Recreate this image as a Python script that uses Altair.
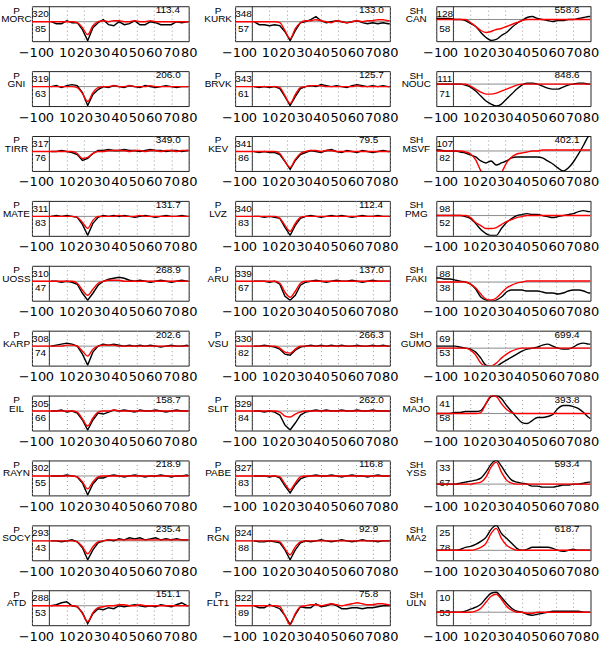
import altair as alt
import pandas as pd

N = None
# sample times (s)
T = [-10, -8, -5, -2, 1, 4, 7, 10, 13, 16, 19, 22, 25, 28, 31, 34,
     37, 40, 43, 46, 49, 52, 55, 58, 61, 64, 67, 70, 73, 76, 79, 80]

# ---------- column 1 (P) ----------
MORC_obs = [N, N, N, N, 0, -2, -2, 1, -1, -1, -8, -19, -6, -1, 2, -3, -4, 0, -3, -2, 1, -3, -3, 0, -1, -3, -3, -3, 0, -1, 0, 0]
MORC_syn = [0, 0, 0, 0, 0, 0, 0, 0, 0, -1, -6, -13, -4, 0, 1, 0, 1, 1, 0, 0, 1, 0, 0, 1, 0, 0, 0, 0, 0, 0, 0, 0]
GNI_obs = [N, N, N, N, 0, 1, -1, 1, 2, 1, -6, -19, -8, -3, 0, -1, 1, 0, -1, 1, 0, -1, 1, 0, -1, 0, 1, 0, -1, 0, 0, 0]
GNI_syn = [0, 0, 0, 0, 0, 0, 0, 0, 0, -1, -7, -15, -6, -1, 0, 0, 1, 0, 0, 1, 0, 0, 0, 1, 0, 0, 0, 0, 0, 0, 0, 0]
TIRR_obs = [N, N, N, N, 0, 0, 1, 0, -1, -3, -9, -7, -2, 1, 1, 2, 1, 1, 2, 1, 1, 0, 1, 2, 1, 1, 0, 1, 1, 0, 1, 1]
TIRR_syn = [0, 0, 0, 0, 0, 0, 0, 0, 0, -2, -7, -6, -2, 0, 0, 1, 1, 1, 1, 0, 1, 1, 0, 1, 1, 0, 1, 1, 0, 1, 1, 1]
MATE_obs = [N, N, N, N, 0, 1, 0, 1, 0, -1, -8, -19, -7, -1, 1, 0, 1, 0, 1, 0, -1, 0, 1, 0, -1, 0, 1, 0, 0, 1, 0, 0]
MATE_syn = [0, 0, 0, 0, 0, 0, 0, 0, 0, -1, -6, -12, -4, 0, 0, 0, 0, 1, 0, 0, 0, 1, 0, 0, 0, 0, 0, 0, 0, 0, 0, 0]
UOSS_obs = [N, N, N, N, 0, 0, -1, 0, -1, -3, -12, -19, -12, -4, 0, 2, 3, 4, 3, 1, 0, 1, 0, -1, 0, 1, 0, -1, 0, 1, 0, 0]
UOSS_syn = [0, 0, 0, 0, 0, 0, 0, 0, 0, -2, -9, -14, -8, -2, 0, 1, 1, 1, 0, 0, 0, 0, 0, 0, 0, 0, 0, 0, 0, 0, 0, 0]
KARP_obs = [N, N, N, N, 0, 1, 2, 3, 2, 0, -8, -19, -6, 0, 2, 1, 2, 1, 0, 1, 0, 1, 0, 1, 0, -1, 0, 1, 0, 0, 1, 0]
KARP_syn = [0, 0, 0, 0, 0, 0, 0, 1, 1, 0, -5, -10, -3, 0, 1, 1, 1, 0, 0, 0, 0, 0, 0, 0, 0, 0, 0, 0, 0, 0, 0, 0]
EIL_obs = [N, N, N, N, 0, 0, 1, -1, 0, -2, -9, -19, -9, -2, -3, -1, 1, 0, 1, 0, -1, 1, 0, 0, 1, 0, -1, 0, 1, 0, 0, 0]
EIL_syn = [0, 0, 0, 0, 0, 0, 0, 0, 0, -1, -8, -15, -7, -1, 0, 0, 1, 0, 0, 0, 0, 0, 0, 0, 0, 0, 0, 0, 0, 0, 0, 0]
RAYN_obs = [N, N, N, N, 0, 0, 0, 1, 0, -1, -7, -19, -8, -2, -2, 0, 1, 0, -1, 0, 1, 0, -1, 0, 0, 1, 0, -1, 0, 0, 1, 0]
RAYN_syn = [0, 0, 0, 0, 0, 0, 0, 0, 0, -1, -6, -13, -6, -1, 0, 0, 0, 0, 0, 0, 0, 0, 0, 0, 0, 0, 0, 0, 0, 0, 0, 0]
SOCY_obs = [N, N, N, N, 0, 0, -1, 0, 1, -1, -7, -19, -9, -2, 0, 1, 0, 2, 1, 3, 2, 3, 1, 2, 3, 1, 2, 1, 2, 1, 1, 1]
SOCY_syn = [0, 0, 0, 0, 0, 0, 0, 0, 0, -1, -6, -13, -6, -1, 0, 1, 1, 1, 1, 1, 1, 1, 1, 1, 1, 1, 1, 1, 1, 1, 1, 1]
ATD_obs = [N, N, N, N, 0, 1, 3, 4, 0, -1, -7, -18, -8, -3, -4, -2, -3, 0, -1, 0, 1, 0, -1, 0, -1, 1, 0, -1, 1, 3, 0, 0]
ATD_syn = [0, 0, 0, 0, 0, 0, 0, 0, 0, -1, -8, -16, -7, -2, -1, 0, 0, 1, 1, 0, 0, 1, 0, 0, 0, 0, 0, 0, 0, 0, 0, 0]

# ---------- column 2 (P) ----------
KURK_obs = [N, N, N, N, 0, -3, -3, -4, -3, -4, -10, -19, -9, -1, 0, 2, 5, 1, -1, 0, 1, 0, -1, 0, 1, -1, -2, -1, -2, -1, -2, -2]
KURK_syn = [0, 0, 0, 0, 0, 0, 0, 0, 0, -1, -9, -17, -7, -1, 1, 1, 2, 1, 0, -1, 1, 0, -1, 0, 1, 0, 1, 1, 2, 2, 1, 1]
BRVK_obs = [N, N, N, N, 0, -1, 0, -1, 0, -2, -10, -19, -10, -2, 0, 1, 0, 2, 1, 0, 1, 0, -1, 1, 2, 1, 0, 1, 0, 1, 0, 0]
BRVK_syn = [0, 0, 0, 0, 0, 0, 0, 0, 0, -1, -9, -17, -8, -1, 0, 1, 1, 1, 0, 0, 0, 0, 0, 0, 1, 0, 0, 0, 0, 0, 0, 0]
KEV_obs = [N, N, N, N, 0, -1, 0, -1, -1, -3, -10, -18, -9, -3, -1, 1, 0, -1, 1, 2, 0, -1, 1, 0, -1, 1, 0, -1, 0, 1, 0, 0]
KEV_syn = [0, 0, 0, 0, 0, 0, 0, 0, 0, -2, -10, -16, -8, -2, 0, 1, 1, 0, 1, 1, 0, 0, 0, 0, 0, 0, 0, 0, 0, 0, 0, 0]
LVZ_obs = [N, N, N, N, 0, 0, -1, 0, -1, -2, -11, -19, -9, -2, 0, 1, 0, -1, 0, 1, 0, 1, 0, -1, 0, 1, 0, 0, 1, 0, 0, 0]
LVZ_syn = [0, 0, 0, 0, 0, 0, 0, 0, 0, -2, -9, -15, -7, -1, 0, 0, 0, 0, 0, 0, 0, 0, 0, 0, 0, 0, 0, 0, 0, 0, 0, 0]
ARU_obs = [N, N, N, N, 0, 0, 0, -1, 0, -3, -15, -19, -14, -4, -1, 0, 1, 0, -1, 0, 1, 0, 0, 1, 0, -1, 0, 1, 0, 0, 0, 0]
ARU_syn = [0, 0, 0, 0, 0, 0, 0, 0, 0, -2, -11, -16, -10, -2, 0, 0, 0, 0, 0, 0, 0, 0, 0, 0, 0, 0, 0, 0, 0, 0, 0, 0]
VSU_obs = [N, N, N, N, 0, 0, 1, 0, -1, -3, -8, -9, -4, -1, 0, 1, 0, 1, 0, 1, 0, 1, 0, 0, 1, 0, 0, 1, 0, 1, 0, 0]
VSU_syn = [0, 0, 0, 0, 0, 0, 0, 0, 0, -2, -6, -7, -3, 0, 0, 0, 0, 0, 0, 0, 0, 0, 0, 0, 0, 0, 0, 0, 0, 0, 0, 0]
SLIT_obs = [N, N, N, N, 0, 0, -1, 0, -1, -4, -14, -19, -12, -4, -1, 0, 1, 0, 1, 0, 0, 1, 0, 0, 1, 0, 0, 1, 0, 0, 0, 0]
SLIT_syn = [0, 0, 0, 0, 0, 0, 0, 0, 0, -1, -5, -6, -3, -1, 0, 0, 0, 0, 0, 0, 0, 0, 0, 0, 0, 0, 0, 0, 0, 0, 0, 0]
PABE_obs = [N, N, N, N, 0, 0, 0, -1, 0, -2, -10, -17, -9, -3, -1, 0, 1, 0, 0, 1, 0, -1, 0, 1, 0, 0, -1, 0, 1, 0, 0, 0]
PABE_syn = [0, 0, 0, 0, 0, 0, 0, 0, 0, -1, -8, -14, -7, -1, 0, 0, 0, 0, 0, 0, 0, 0, 0, 0, 0, 0, 0, 0, 0, 0, 0, 0]
RGN_obs = [N, N, N, N, 0, -1, -1, 0, -1, -2, -9, -19, -9, -2, 0, -1, 0, 1, 0, -1, 0, 1, 0, -1, 0, 1, 0, 0, -1, 0, 0, 0]
RGN_syn = [0, 0, 0, 0, 0, 0, 0, 0, 0, -1, -8, -14, -6, -1, 0, 0, 0, 0, 0, 0, 0, 0, 0, 0, 0, 0, 0, 0, 0, 0, 0, 0]
FLT1_obs = [N, N, N, N, 0, -2, -2, 1, -1, -3, -10, -19, -9, -1, -2, -2, 2, -1, 0, 2, 0, -3, -3, -2, -2, -3, -2, -2, -1, 0, 0, 0]
FLT1_syn = [0, 0, 0, 0, 0, 0, 0, 0, 0, -1, -10, -19, -8, -1, 0, 1, 1, 0, 1, 2, 1, 0, 1, 2, 3, 2, 1, 1, 2, 2, 1, 1]

# ---------- column 3 (SH) ----------
CAN_obs = [1, 1, 1, 1, 0, 0, -1, -4, -7, -13, -18, -21, -20, -16, -13, -8, -4, -1, 2, 3, 1, 0, -1, -2, -1, -1, 0, 0, 1, 2, 3, 3]
CAN_syn = [0, 0, 0, 0, 0, 0, 0, -3, -7, -11, -13, -12, -10, -9, -7, -5, -3, -1, 0, 0, 0, 0, 0, 0, 0, 0, 0, 0, 0, 0, 0, 0]
NOUC_obs = [0, 0, 0, 0, 0, 0, -1, -3, -7, -12, -17, -20, -22, -20, -15, -10, -5, -1, 1, 1, 0, -2, -4, -5, -5, -3, -1, 0, 1, 1, 0, 0]
NOUC_syn = [0, 0, 0, 0, 0, 0, 0, -2, -5, -8, -10, -10, -9, -7, -5, -3, -1, 0, 0, 0, 0, 0, 0, 0, 0, 0, 0, 0, 0, 0, 0, 0]
MSVF_obs = [1, 1, 0, 0, 0, -1, -2, -4, -6, -10, -12, -10, -14, -12, -10, -7, -6, -6, -6, -6, -6, -7, -10, -13, -17, -20, -17, -11, -3, 6, 15, 16]
MSVF_syn = [0, 0, 0, 0, 0, 0, -1, -3, -9, -20, -28, -31, -29, -22, -12, -6, -3, -2, -1, 0, 0, 1, 1, 1, 1, 1, 1, 1, 1, 1, 1, 1]
PMG_obs = [0, 0, 0, 0, 0, 0, -1, -3, -8, -14, -18, -20, -20, -13, -7, -3, 0, 1, 2, 1, 1, 0, -1, -2, -1, 0, 1, 2, 4, 5, 4, 4]
PMG_syn = [0, 0, 0, 0, 0, 0, 0, -2, -7, -10, -13, -13, -12, -9, -6, -4, -2, -1, 0, 0, 0, 0, 0, 0, 0, 0, 0, 0, 0, 0, 0, 0]
FAKI_obs = [4, 4, 3, 3, 2, 1, 0, -2, -7, -15, -18, -19, -18, -15, -10, -8, -8, -8, -9, -9, -9, -10, -11, -11, -12, -11, -9, -8, -8, -9, -11, -11]
FAKI_syn = [0, 0, 0, 0, 0, 0, 0, -2, -6, -12, -17, -18, -16, -11, -6, -3, -1, 0, 1, 1, 1, 1, 1, 1, 1, 1, 1, 1, 1, 1, 1, 1]
GUMO_obs = [2, 2, 2, 2, 2, 1, 0, -1, -4, -10, -17, -18, -18, -15, -12, -9, -6, -3, -1, 0, 1, 3, 4, 2, 0, -1, -1, 1, 4, 5, 4, 4]
GUMO_syn = [0, 0, 0, 0, 0, 0, 0, -2, -7, -15, -18, -18, -15, -10, -6, -3, -1, 0, 0, 0, 0, 0, 0, 0, 0, 0, 0, 0, 0, 0, 0, 0]
MAJO_obs = [0, 0, 0, 0, 1, 1, 2, 2, 2, 3, 10, 17, 18, 15, 8, 2, -4, -9, -10, -7, -4, -4, -3, -1, 5, 8, 8, 7, 5, 1, -4, -5]
MAJO_syn = [0, 0, 0, 0, 0, 0, 0, 0, 0, 1, 10, 18, 17, 10, 4, 1, 0, 0, 0, 0, 0, 0, 0, 0, 0, 0, 0, 0, 0, 0, 0, 0]
YSS_obs = [0, 0, 0, 0, 0, 1, 2, 3, 4, 6, 12, 20, 24, 18, 10, 4, 2, 1, 0, -2, -2, -3, -3, -3, -2, -1, -1, 0, 0, 1, 2, 2]
YSS_syn = [0, 0, 0, 0, 0, 0, 0, 0, 1, 2, 7, 17, 22, 12, 4, 1, 0, 0, 0, 0, 0, 0, 0, 0, 0, 0, 0, 0, 0, 0, 0, 0]
MA2_obs = [0, 0, 0, 0, 0, 1, 3, 4, 6, 9, 13, 21, 25, 17, 12, 7, 2, 0, 1, 3, 3, 3, 3, 2, 0, -1, 0, 1, 0, 0, 0, 0]
MA2_syn = [0, 0, 0, 0, 0, 0, 0, 0, 1, 3, 7, 17, 22, 12, 5, 2, 0, 0, 0, 0, 0, 0, 0, 0, 0, 0, 0, 0, 0, 0, 0, 0]
ULN_obs = [0, 0, 0, 0, 0, 0, 1, 3, 5, 8, 14, 19, 20, 15, 9, 4, 1, 0, -2, -3, -2, -1, 0, 1, 1, 1, 1, 1, 1, 0, 0, 0]
ULN_syn = [0, 0, 0, 0, 0, 0, 0, 0, 1, 4, 10, 16, 18, 13, 6, 2, 0, 0, -1, -1, 0, 0, 0, 0, 0, 0, 0, 0, 0, 0, 0, 0]

# ---------- panel annotations (column by column) ----------
stations = ["MORC", "GNI", "TIRR", "MATE", "UOSS", "KARP", "EIL", "RAYN", "SOCY", "ATD",
            "KURK", "BRVK", "KEV", "LVZ", "ARU", "VSU", "SLIT", "PABE", "RGN", "FLT1",
            "CAN", "NOUC", "MSVF", "PMG", "FAKI", "GUMO", "MAJO", "YSS", "MA2", "ULN"]
components = ["P"] * 20 + ["SH"] * 10
azimuths = ["320", "319", "317", "311", "310", "308", "305", "302", "293", "288",
            "348", "343", "341", "340", "339", "330", "329", "327", "324", "322",
            "128", "111", "107", "98", "88", "69", "41", "33", "25", "10"]
distances = ["85", "63", "76", "83", "47", "74", "66", "55", "43", "53",
             "57", "61", "86", "83", "67", "82", "84", "83", "88", "89",
             "58", "71", "82", "52", "38", "53", "58", "67", "78", "53"]
peak_amp = ["113.4", "206.0", "349.0", "131.7", "268.9", "202.6", "158.7", "218.9", "235.4", "151.1",
            "133.0", "125.7", "79.5", "112.4", "137.0", "266.3", "262.0", "116.8", "92.9", "75.8",
            "558.6", "848.6", "402.1", "", "", "699.4", "393.8", "593.4", "618.7", ""]
# upper end of each panel's amplitude axis (lower end = upper - 35)
y_upper = [15.5] * 20 + [13.3, 13, 15, 14.7, 16.3, 17.5, 18, 23.7, 25, 22]
y_span = 35

obs_list = [MORC_obs, GNI_obs, TIRR_obs, MATE_obs, UOSS_obs, KARP_obs, EIL_obs, RAYN_obs, SOCY_obs, ATD_obs,
            KURK_obs, BRVK_obs, KEV_obs, LVZ_obs, ARU_obs, VSU_obs, SLIT_obs, PABE_obs, RGN_obs, FLT1_obs,
            CAN_obs, NOUC_obs, MSVF_obs, PMG_obs, FAKI_obs, GUMO_obs, MAJO_obs, YSS_obs, MA2_obs, ULN_obs]
syn_list = [MORC_syn, GNI_syn, TIRR_syn, MATE_syn, UOSS_syn, KARP_syn, EIL_syn, RAYN_syn, SOCY_syn, ATD_syn,
            KURK_syn, BRVK_syn, KEV_syn, LVZ_syn, ARU_syn, VSU_syn, SLIT_syn, PABE_syn, RGN_syn, FLT1_syn,
            CAN_syn, NOUC_syn, MSVF_syn, PMG_syn, FAKI_syn, GUMO_syn, MAJO_syn, YSS_syn, MA2_syn, ULN_syn]
for a, b in zip(obs_list, syn_list):
    assert len(a) == len(T) and len(b) == len(T)

FONT = "Liberation Sans"
col_widths = [157, 155, 154.5]
label_dx = [-15.5, -17, -20]
amp_x = [124, 124, 118.5]

xaxis = alt.Axis(values=list(range(-10, 81, 10)), format="d", title=None,
                 grid=True, gridDash=[1, 3], gridColor="#9a9a9a", gridWidth=1,
                 ticks=False, domain=False, labelFont="DejaVu Sans", labelFontSize=13,
                 labelColor="black", labelPadding=5, labelOverlap=False, labelFlush=False)


def txt(s, x, y, align):
    return alt.Chart(pd.DataFrame({"s": [s]})).mark_text(
        align=align, baseline="alphabetic", font=FONT, fontSize=10, color="black"
    ).encode(text="s:N", x=alt.value(x), y=alt.value(y))


def panel(i, col):
    w = col_widths[col]
    top = y_upper[i]
    X = alt.X("t:Q", scale=alt.Scale(domain=[-10, 80], nice=False, zero=False), axis=xaxis)
    Y = alt.Y("amp:Q", scale=alt.Scale(domain=[top - y_span, top], nice=False, zero=False), axis=None)
    dfo = pd.DataFrame({"t": T, "amp": obs_list[i]})
    dfs = pd.DataFrame({"t": T, "amp": syn_list[i]})
    layers = [
        txt(components[i], label_dx[col], 7.5, "center"),
        txt(stations[i], label_dx[col], 16, "center"),
        txt(azimuths[i], 8.5, 11, "center"),
        txt(distances[i], 8.5, 25.5, "center"),
    ]
    if peak_amp[i]:
        layers.append(txt(peak_amp[i], amp_x[col], 7, "left"))
    layers += [
        alt.Chart(pd.DataFrame({"amp": [0]})).mark_rule(color="#8c8c8c", strokeWidth=1).encode(y=Y),
        alt.Chart(pd.DataFrame({"t": [0]})).mark_rule(color="#333333", strokeWidth=1).encode(x=X),
        alt.Chart(dfo).mark_line(color="black", strokeWidth=1.4, clip=True,
                                 interpolate="linear" if col < 2 else "monotone").encode(x=X, y=Y),
        alt.Chart(dfs).mark_line(color="#ff0000", strokeWidth=1.4, clip=True,
                                 interpolate="monotone").encode(x=X, y=Y),
    ]
    return alt.layer(*layers).properties(width=w, height=35)


# grid: row by row, three panels per row
panels = [panel(c * 10 + r, c) for r in range(10) for c in range(3)]
chart = alt.concat(*panels, columns=3, spacing={"row": 30, "column": 46.5},
                   bounds="flush", align="each").properties(
    padding={"left": 0, "top": 3.7, "right": 0, "bottom": 0}
).configure_view(stroke="#222222", strokeWidth=1)

chart.save("out.html", embed_options={"renderer": "svg", "actions": False})
